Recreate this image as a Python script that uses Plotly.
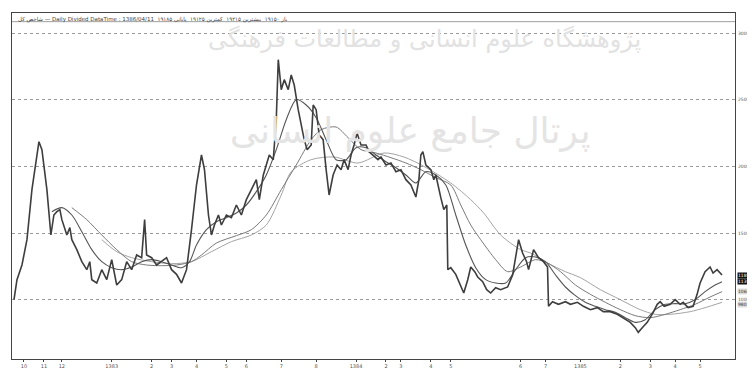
import plotly.graph_objects as go

# ---- data ----
price_day = [0,3,8,13,18,25,28,33,37,40,43,46,48,53,56,58,63,68,73,76,78,83,88,93,98,103,108,113,118,123,128,131,133,138,143,148,153,158,163,168,173,178,183,188,191,195,198,201,205,208,213,218,223,228,233,238,243,246,250,253,256,260,263,265,268,271,275,278,281,285,288,291,294,298,300,303,306,310,313,316,320,324,328,331,335,338,341,344,348,353,356,360,365,368,373,378,383,388,393,398,403,406,408,410,413,418,421,423,426,428,431,434,435,438,443,448,451,455,458,462,465,470,474,478,483,488,495,500,503,506,510,514,516,521,526,531,535,536,540,546,553,558,565,571,578,585,591,598,605,611,618,623,626,630,635,641,645,648,652,658,663,668,671,676,681,685,688,693,698,701,705,710]
price_val = [1000,1150,1260,1450,1825,2185,2125,1825,1485,1635,1660,1675,1600,1485,1540,1450,1375,1285,1225,1285,1150,1125,1225,1150,1300,1110,1150,1285,1225,1335,1315,1600,1335,1315,1260,1285,1315,1225,1190,1125,1225,1525,1860,2085,1975,1635,1485,1560,1635,1560,1635,1615,1710,1635,1750,1825,1900,1750,1935,2010,2085,2050,2350,2800,2575,2650,2575,2685,2610,2425,2310,2200,2125,2160,2460,2425,2235,2200,1975,1785,1935,2010,1975,2050,1975,2085,2160,2250,2160,2160,2110,2085,2050,2070,2010,2025,1960,1975,1900,1860,1770,1900,2085,2110,2010,1975,1900,1935,1825,1765,1675,1710,1225,1240,1190,1110,1050,1150,1245,1210,1170,1135,1075,1050,1090,1075,1095,1185,1335,1450,1350,1285,1225,1375,1315,1285,1245,950,985,965,985,965,980,950,925,940,910,910,890,865,830,790,755,790,830,905,965,985,950,965,1000,965,980,940,950,1040,1125,1210,1245,1200,1225,1185]

ma_fast_day = [38,48,58,68,78,88,98,108,118,128,138,148,158,168,176,183,193,203,213,223,233,243,253,263,273,283,293,303,313,323,333,343,353,363,373,383,393,403,413,423,433,443,453,463,473,483,493,503,513,523,533,543,553,563,573,583,593,603,613,623,633,643,653,663,673,683,693,703,710]
ma_fast_val = [1660,1690,1635,1510,1375,1285,1240,1225,1245,1285,1300,1285,1260,1240,1285,1410,1525,1585,1615,1650,1710,1810,1935,2125,2350,2500,2460,2365,2200,2050,2050,2140,2140,2085,2035,1990,1935,1875,1960,1935,1860,1635,1410,1240,1150,1125,1125,1225,1315,1320,1285,1185,1095,1030,980,950,925,905,865,830,850,925,965,970,970,1000,1060,1110,1135]

ma_mid_day = [58,73,88,103,118,133,148,163,178,188,203,223,238,253,268,283,298,308,323,335,348,363,378,393,408,423,438,448,458,468,483,495,508,523,535,548,563,578,593,608,623,638,653,668,683,698,710]
ma_mid_val = [1690,1600,1485,1375,1285,1260,1255,1260,1285,1335,1425,1480,1525,1635,1825,2010,2200,2275,2295,2215,2125,2100,2065,2025,1975,1915,1860,1710,1560,1450,1300,1210,1245,1300,1275,1210,1110,1040,980,925,880,865,890,925,965,1020,1060]

ma_slow_day = [88,103,118,138,158,178,198,218,238,253,268,278,298,321,345,371,391,411,438,458,471,488,508,518,535,553,568,588,608,628,643,658,678,693,710]
ma_slow_val = [1450,1360,1315,1285,1270,1285,1360,1435,1485,1560,1785,1960,2050,2070,2025,2100,2070,2000,1875,1750,1650,1485,1375,1350,1275,1210,1165,1075,1000,925,890,890,910,940,980]

y_grid = [1000, 1500, 2000, 2500, 3000]
x_tick_day = [10, 30, 48, 98, 138, 158, 183, 213, 233, 268, 303, 343, 373, 388, 418, 438, 508, 533, 568, 608, 638, 663, 688]
x_tick_text = ["10", "11", "12", "1383", "2", "3", "4", "5", "6", "7", "8", "1384", "2", "3", "4", "5", "6", "7", "1385", "2", "3", "4", "5"]

fig = go.Figure()
fig.add_trace(go.Scatter(x=ma_slow_day, y=ma_slow_val, mode="lines",
                         line=dict(color="#9a9a9a", width=0.9, shape="spline", smoothing=0.8), showlegend=False))
fig.add_trace(go.Scatter(x=ma_mid_day, y=ma_mid_val, mode="lines",
                         line=dict(color="#7a7a7a", width=1.0, shape="spline", smoothing=0.8), showlegend=False))
fig.add_trace(go.Scatter(x=ma_fast_day, y=ma_fast_val, mode="lines",
                         line=dict(color="#555555", width=1.1, shape="spline", smoothing=0.8), showlegend=False))
fig.add_trace(go.Scatter(x=price_day, y=price_val, mode="lines",
                         line=dict(color="#3e3e3e", width=1.6), showlegend=False))

# last-value tags on the right
tags = [(price_val[-1], "#111111", "white", 0), (ma_fast_val[-1], "#111111", "white", 0),
        (ma_mid_val[-1], "#dddddd", "#333333", 0), (ma_slow_val[-1], "#dddddd", "#333333", -2)]
for v, bg, fc, ys in tags:
    fig.add_annotation(xref="paper", x=1.003, y=v, yref="y", yshift=ys, text=str(v), showarrow=False,
                       xanchor="left", font=dict(size=4.5, color=fc, family="DejaVu Sans"),
                       bgcolor=bg, borderpad=0)

# watermark
fig.add_annotation(xref="paper", yref="paper", x=0.57, y=0.925, text="پژوهشگاه علوم انسانی و مطالعات فرهنگی",
                   showarrow=False, font=dict(size=24, color="#e2e2e2", family="DejaVu Sans"), yanchor="middle")
fig.add_annotation(xref="paper", yref="paper", x=0.55, y=0.66, text="پرتال جامع علوم انسانی",
                   showarrow=False, font=dict(size=36, color="#e4e4e4", family="DejaVu Sans"))

# header text
fig.add_annotation(xref="paper", yref="paper", x=0.005, y=0.998, xanchor="left", yanchor="top",
                   text="شاخص کل ‎— Daily Divided DataTime : 1386/04/11  باز ۱۹۱۵۰  بیشترین ۱۹۲۱۵  کمترین ۱۹۱۲۵  پایانی ۱۹۱۸۵",
                   showarrow=False, font=dict(size=5.5, color="#444444", family="DejaVu Sans"))
fig.add_shape(type="line", xref="paper", yref="paper", x0=0, x1=1, y0=0.975, y1=0.975,
              line=dict(color="#888888", width=0.8))

# the page body keeps an 8px margin, so the figure is 8px smaller than the window
fig.update_layout(
    width=747, height=361,
    margin=dict(l=4, r=20, t=5, b=10),
    paper_bgcolor="white", plot_bgcolor="white",
    xaxis=dict(range=[-2, 723], tickmode="array", tickvals=x_tick_day, ticktext=x_tick_text,
               showgrid=False, zeroline=False, showline=True, linecolor="#444444", linewidth=1.2,
               mirror=True, ticks="outside", ticklen=2, tickcolor="#444444",
               tickfont=dict(size=5, color="#555555", family="DejaVu Sans"), automargin=False),
    yaxis=dict(range=[555, 3150], side="right", tickmode="array", tickvals=y_grid,
               ticktext=[str(v) for v in y_grid], ticks="", ticklabelstandoff=1,
               showgrid=True, gridcolor="#9a9a9a", griddash="dot", gridwidth=0.8,
               zeroline=False, showline=True, linecolor="#444444", linewidth=1.2, mirror=True,
               tickfont=dict(size=4.5, color="#555555", family="DejaVu Sans"), automargin=False),
)

fig.write_html("out.html")
